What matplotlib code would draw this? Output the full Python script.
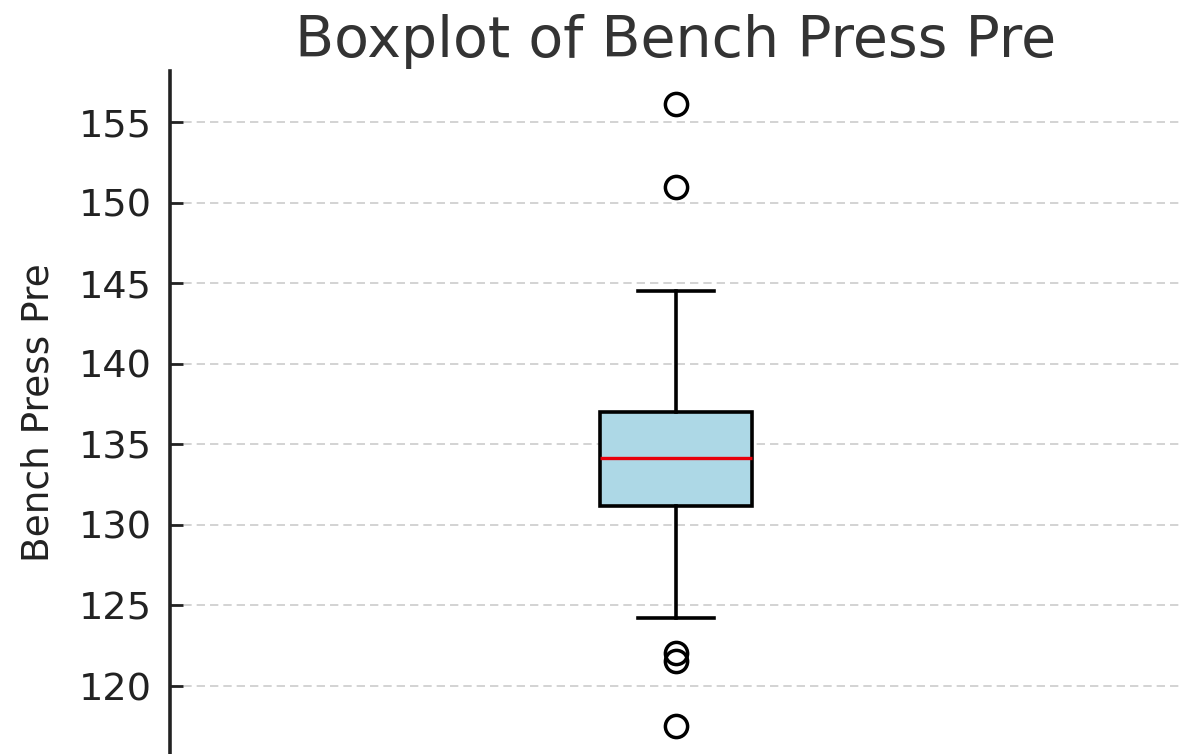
import matplotlib
matplotlib.use("Agg")
import matplotlib.pyplot as plt
from matplotlib import font_manager

# summary values
whisker_low = 124.2
q1 = 131.15
median = 134.15
q3 = 137.0
whisker_high = 144.5
outliers = [156.15, 151.0, 122.05, 121.55, 117.5]
yticks = [120, 125, 130, 135, 140, 145, 150, 155]

stats = [{
    "whislo": whisker_low, "q1": q1, "med": median, "q3": q3,
    "whishi": whisker_high, "fliers": outliers, "label": "",
}]

# narrow font for the y label if there is one
narrow = [f.name for f in font_manager.fontManager.ttflist if f.name == "Liberation Sans Narrow"]
if narrow:
    ylab_font = ["Liberation Sans Narrow", "DejaVu Sans"]
    ylab_size = 34
else:
    ylab_font = ["DejaVu Sans"]
    ylab_size = 27

fig = plt.figure(figsize=(11.85, 7.54), dpi=100)
ax = fig.add_axes([170 / 1185, 0, 1012 / 1185, (754 - 71) / 754])

ax.bxp(stats, positions=[1], widths=0.15, patch_artist=True,
       boxprops=dict(facecolor="lightblue", edgecolor="black", linewidth=2.6),
       medianprops=dict(color="#e8000b", linewidth=2.4),
       whiskerprops=dict(color="black", linewidth=2.6),
       capprops=dict(color="black", linewidth=2.6),
       flierprops=dict(marker="o", markerfacecolor="none", markeredgecolor="black",
                       markersize=16, markeredgewidth=2.5))

ax.set_xlim(0.5, 1.5)
ax.set_ylim(115.78, 158.17)
ax.set_yticks(yticks)
ax.set_xticks([])
ax.yaxis.grid(True, color="#cccccc", linestyle=(0, (5, 3)), linewidth=1.2)
ax.set_axisbelow(True)

for s in ["top", "right", "bottom"]:
    ax.spines[s].set_visible(False)
ax.spines["left"].set_linewidth(2.6)
ax.spines["left"].set_color("#222222")

ax.tick_params(axis="y", direction="in", length=9, width=2, colors="#222222",
               labelsize=27.5, pad=13)
for lbl in ax.get_yticklabels():
    lbl.set_family("DejaVu Sans")

ax.set_ylabel("Bench Press Pre", family=ylab_font, fontsize=ylab_size,
              color="#222222", labelpad=16)
ax.set_title("Boxplot of Bench Press Pre", fontsize=41, color="#333333", pad=10)

fig.savefig("out.png", dpi=100)
